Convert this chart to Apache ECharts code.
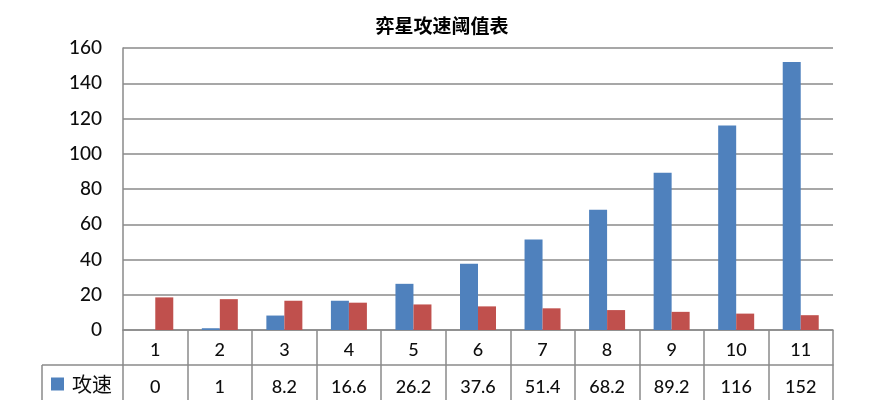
<!DOCTYPE html>
<html>
<head>
<meta charset="utf-8">
<script src="https://cdn.jsdelivr.net/npm/echarts@6/dist/echarts.min.js"></script>
<style>
html,body{margin:0;padding:0;background:#fff;}
#chart{width:889px;height:400px;}
</style>
</head>
<body>
<div id="chart"></div>
<script>
var titleText = '弈星攻速阈值表';
var categories = ['1','2','3','4','5','6','7','8','9','10','11'];
var speedName = '攻速';
var speedValues = [0, 1, 8.2, 16.6, 26.2, 37.6, 51.4, 68.2, 89.2, 116, 152];
var secondName = '攻击间隔';
var secondValues = [18.5, 17.5, 16.6, 15.5, 14.5, 13.4, 12.3, 11.3, 10.3, 9.3, 8.4];
var yTicks = [0, 20, 40, 60, 80, 100, 120, 140, 160];

var lineColor = '#8a8a8a';
var textColor = '#0d0d0d';
var numFont = 'Lato, "Noto Sans", sans-serif';
var cjkFont = '"Noto Sans CJK SC", sans-serif';

var chart = echarts.init(document.getElementById('chart'));
chart.setOption({
  backgroundColor: '#ffffff',
  animation: false,
  title: {
    text: titleText,
    left: 437,
    textAlign: 'center',
    top: 11,
    textStyle: { fontFamily: cjkFont, fontSize: 19, fontWeight: 'bold', color: '#000' }
  },
  legend: {
    data: [speedName],
    left: 51,
    top: 374,
    icon: 'rect',
    itemWidth: 13,
    itemHeight: 13,
    itemGap: 6,
    padding: 0,
    textStyle: { fontFamily: cjkFont, fontSize: 20, color: textColor, padding: [0,0,0,3] }
  },
  grid: { left: 123, right: 56, top: 48, bottom: 70 },
  xAxis: [
    {
      type: 'category',
      data: categories,
      position: 'bottom',
      axisLine: { show: true, lineStyle: { color: lineColor, width: 1.5 } },
      axisTick: { show: true, length: 35, lineStyle: { color: lineColor, width: 1.5 } },
      axisLabel: { margin: 11, fontFamily: numFont, fontSize: 18, fontWeight: 500, color: textColor },
      splitLine: { show: false }
    },
    {
      type: 'category',
      data: categories,
      position: 'bottom',
      offset: 35,
      axisLine: { show: true, lineStyle: { color: lineColor, width: 1.5 } },
      axisTick: { show: true, length: 40, lineStyle: { color: lineColor, width: 1.5 } },
      axisLabel: {
        margin: 13, fontFamily: numFont, fontSize: 18, fontWeight: 500, color: textColor,
        formatter: function (v, i) { return String(speedValues[i]); }
      },
      splitLine: { show: false }
    }
  ],
  yAxis: {
    type: 'value',
    min: yTicks[0],
    max: yTicks[yTicks.length - 1],
    interval: yTicks[1] - yTicks[0],
    axisLine: { show: true, lineStyle: { color: lineColor, width: 1.5 } },
    axisTick: { show: false },
    axisLabel: { margin: 21, fontFamily: numFont, fontSize: 19, fontWeight: 500, color: textColor },
    splitLine: { show: true, lineStyle: { color: lineColor, width: 1.5 } }
  },
  graphic: [
    { type: 'line', shape: { x1: 42, y1: 365, x2: 123, y2: 365 }, style: { stroke: lineColor, lineWidth: 1.5 } },
    { type: 'line', shape: { x1: 42, y1: 365, x2: 42, y2: 400 }, style: { stroke: lineColor, lineWidth: 1.5 } }
  ],
  series: [
    {
      name: speedName,
      type: 'bar',
      xAxisIndex: 0,
      data: speedValues,
      barWidth: 18,
      barGap: '0%',
      itemStyle: { color: '#4f81bd' }
    },
    {
      name: secondName,
      type: 'bar',
      xAxisIndex: 0,
      data: secondValues,
      barWidth: 18,
      barGap: '0%',
      itemStyle: { color: '#c0504d' }
    }
  ]
});
</script>
</body>
</html>
